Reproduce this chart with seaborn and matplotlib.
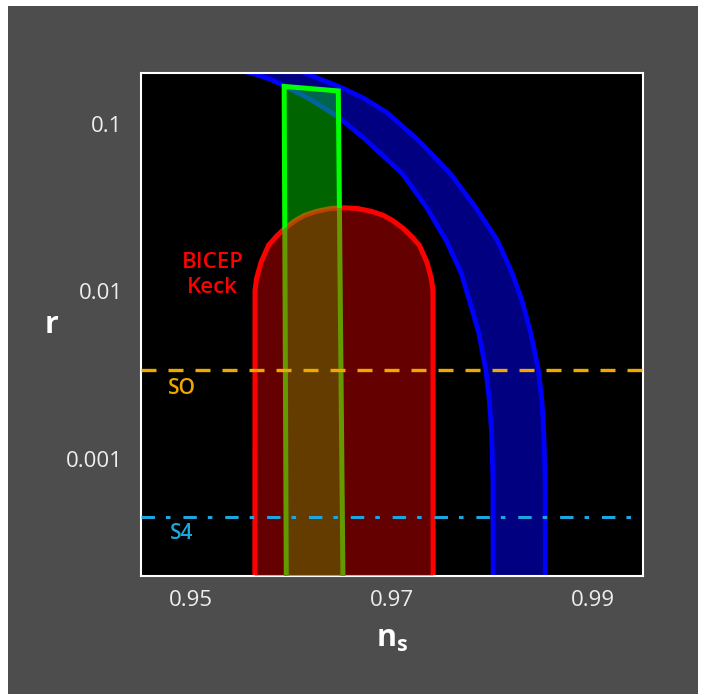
import numpy as np
import pandas as pd
import matplotlib
matplotlib.use("Agg")
import matplotlib.pyplot as plt
from matplotlib.patches import Rectangle
from matplotlib.ticker import NullLocator
import seaborn as sns

# ---------------- data ----------------
# blue band: inner (N low) and outer edges, ns vs r
inner_ns = [0.95272, 0.95620, 0.95789, 0.95928, 0.96187, 0.96466, 0.96734, 0.97013,
            0.97102, 0.97341, 0.97538, 0.97690, 0.97769, 0.97864, 0.97933, 0.97968,
            0.97990, 0.98003, 0.98006]
inner_r = [0.2228, 0.1988, 0.1843, 0.1681, 0.1397, 0.1095, 0.0806, 0.0564,
           0.0503, 0.0318, 0.0201, 0.01273, 0.00881, 0.00560, 0.00337, 0.00223,
           0.001416, 0.000742, 0.0001]
outer_ns = [0.95938, 0.96154, 0.96316, 0.96486, 0.96704, 0.96943, 0.97262, 0.97580,
            0.97829, 0.98048, 0.98197, 0.98292, 0.98381, 0.98456, 0.98491, 0.98510,
            0.98523, 0.98525]
outer_r = [0.2228, 0.1988, 0.1814, 0.1654, 0.1435, 0.1173, 0.0795, 0.0503,
           0.0318, 0.0201, 0.01273, 0.00881, 0.00560, 0.00338, 0.00223, 0.001416,
           0.000742, 0.0001]

# BICEP/Keck dome
dome_ns = [0.95633, 0.95635, 0.95650, 0.95695, 0.95769, 0.95849, 0.95928, 0.96038,
           0.96127, 0.96247, 0.96386, 0.96520, 0.96655, 0.96794, 0.96913, 0.97003,
           0.97112, 0.97192, 0.97272, 0.97346, 0.97391, 0.97406, 0.97408]
dome_r = [0.0001, 0.0101, 0.0119, 0.0149, 0.0188, 0.0213, 0.0237, 0.0265,
          0.0284, 0.0300, 0.0312, 0.0315, 0.0312, 0.0300, 0.0284, 0.0265,
          0.0237, 0.0213, 0.0188, 0.0149, 0.0119, 0.0101, 0.0001]

# green quadrilateral
green_ns = [0.95947, 0.95925, 0.96464, 0.96512]
green_r = [0.00015, 0.167, 0.157, 0.00015]

# forecast sensitivities
so_r = 0.00338
s4_r = 0.000452

xticks = [0.95, 0.97, 0.99]
xtick_labels = ["0.95", "0.97", "0.99"]
xminor = [0.96, 0.98]
yticks = [0.001, 0.01, 0.1]
ytick_labels = ["0.001", "0.01", "0.1"]

# ---------------- style ----------------
sns.set_theme(style="dark")
plt.rcParams["font.family"] = ["Open Sans", "DejaVu Sans"]
plt.rcParams["mathtext.fontset"] = "custom"
plt.rcParams["mathtext.bf"] = "Open Sans:bold"
plt.rcParams["mathtext.rm"] = "Open Sans"

W, H = 705, 700
fig = plt.figure(figsize=(W / 100, H / 100), dpi=100, facecolor="white")
fig.add_artist(Rectangle((8 / W, 6 / H), (698 - 8) / W, (694 - 6) / H,
                         transform=fig.transFigure, facecolor="#4d4d4d",
                         edgecolor="none", zorder=0))

ax = fig.add_axes([141 / W, 124 / H, 502.3 / W, 502.7 / H])
ax.set_facecolor("black")
ax.set_yscale("log")
ax.set_xlim(0.945, 0.995)
ax.set_ylim(2e-4, 0.2)
ax.grid(False)

# blue band
band_x = np.concatenate([inner_ns, outer_ns[::-1]])
band_y = np.concatenate([inner_r, outer_r[::-1]])
ax.fill(band_x, band_y, facecolor="#000080", edgecolor="none", zorder=1)
sns.lineplot(x=inner_ns, y=inner_r, sort=False, estimator=None, color="#0000ff",
             lw=3.4, ax=ax, zorder=1.5)
sns.lineplot(x=outer_ns, y=outer_r, sort=False, estimator=None, color="#0000ff",
             lw=3.4, ax=ax, zorder=1.5)

# red dome outline (under the green)
sns.lineplot(x=dome_ns, y=dome_r, sort=False, estimator=None, color="#ff0000",
             lw=3.6, ax=ax, zorder=2)

# green region
ax.fill(green_ns, green_r, facecolor=(0, 1, 0, 0.4), edgecolor="#00ff00",
        lw=3.6, joinstyle="miter", zorder=3)

# red dome fill (on top, translucent)
ax.fill(dome_ns, dome_r, facecolor=(1, 0, 0, 0.4), edgecolor="none", zorder=4)

# SO / S4 lines
ax.axhline(so_r, color="#f0a800", lw=2.4, ls=(0, (4.5, 3.6)), zorder=5)
ax.axhline(s4_r, color="#1ba6e0", lw=2.2, ls=(0, (4.4, 3.6, 1.5, 4.2)), zorder=5)

ax.text(0.95212, 0.0125, "BICEP\nKeck", color="#ff0000", fontsize=16,
        fontweight="semibold", ha="center", va="center", linespacing=1.2, zorder=6)
ax.text(0.94903, 0.00263, "SO", color="#f0a800", fontsize=15,
        fontweight="semibold", ha="center", va="center", zorder=6)
ax.text(0.94901, 0.00036, "S4", color="#1ba6e0", fontsize=15,
        fontweight="semibold", ha="center", va="center", zorder=6)

# axes, ticks
ax.set_xticks(xticks, labels=xtick_labels)
ax.set_xticks(xminor, minor=True)
ax.set_yticks(yticks, labels=ytick_labels)
ax.yaxis.set_minor_locator(NullLocator())
ax.tick_params(which="both", direction="inout", length=14.4, width=1.1,
               color="white", labelcolor="#eeeeee", labelsize=16)
ax.tick_params(axis="x", which="both", pad=3)
ax.tick_params(axis="y", which="both", pad=6)
for s in ax.spines.values():
    s.set_color("white")
    s.set_linewidth(1.5)
    s.set_visible(True)

ax.set_xlabel(r"$\mathbf{n}_{\mathbf{s}}$", fontsize=22, color="white", va="baseline")
ax.xaxis.set_label_coords(0.5, -0.1412)
ax.set_ylabel("r", fontsize=22, fontweight="bold", color="white", rotation=0,
              ha="center", va="baseline")
ax.yaxis.set_label_coords(-0.1772, 0.4834)

fig.savefig("out.png", dpi=100, facecolor="white")
